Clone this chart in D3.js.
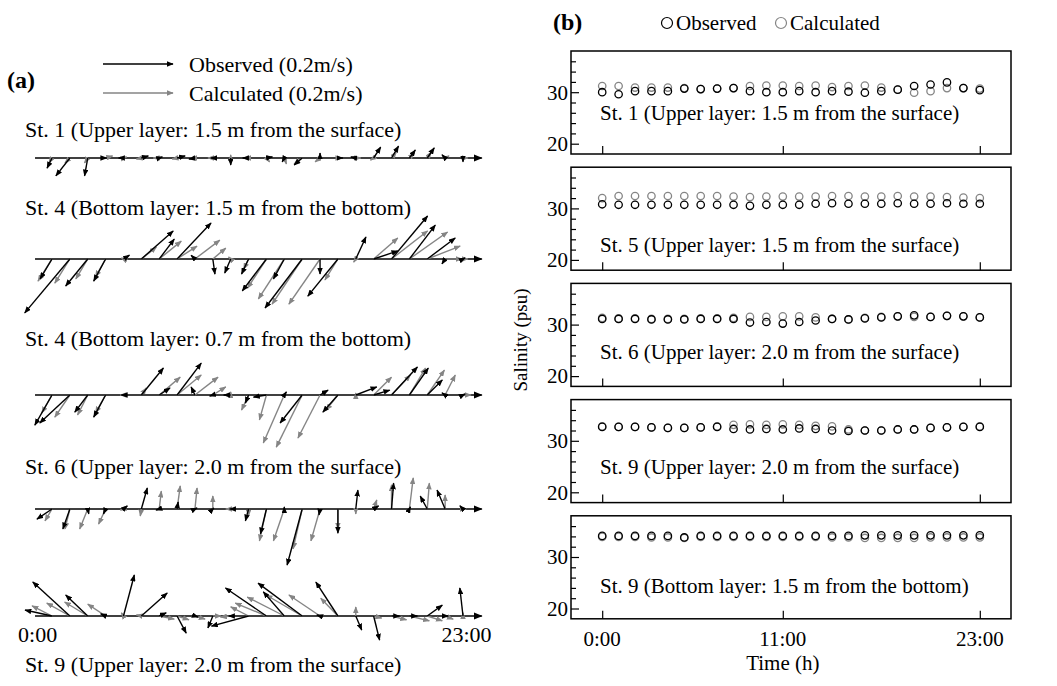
<!DOCTYPE html>
<html>
<head>
<meta charset="utf-8">
<script src="https://cdn.jsdelivr.net/npm/d3@7"></script>
<style>
  body{margin:0;background:#fff}
  svg{font-family:"Liberation Serif","Times New Roman",serif}
</style>
</head>
<body>
<svg width="1057" height="686"></svg>
<script>
// hours of the day (0:00 .. 23:00)
var hours=[0,1,2,3,4,5,6,7,8,9,10,11,12,13,14,15,16,17,18,19,20,21,22,23];

// ---- (a) current vectors [u east, v north] in cm/s ----
var stickTitles=[
  "St. 1 (Upper layer: 1.5 m from the surface)",
  "St. 4 (Bottom layer: 1.5 m from the bottom)",
  "St. 4 (Bottom layer: 0.7 m from the bottom)",
  "St. 6 (Upper layer: 2.0 m from the surface)",
  "St. 9 (Upper layer: 2.0 m from the surface)"
];
var st1Obs=[[-1.4,-2.9],[-4.0,-5.1],[-0.9,-5.1],[0.3,0],[-1.4,0],[2.0,0.6],[0.9,0.3],[2.3,0.6],[-1.7,-0.3],[-0.6,0],[0,-2.0],[-1.7,0],
            [1.7,0.3],[-0.6,-1.1],[-2.3,-2.0],[0,1.4],[1.4,0],[-1.4,0.3],[2.0,3.1],[2.0,3.4],[1.7,2.3],[2.0,2.9],[-0.9,0.9],[0,-1.1]];
var st1Cal=[[-0.9,-1.4],[-1.4,-1.4],[-0.9,-1.4],[2.0,0.6],[0.9,0.3],[-1.4,-0.3],[-1.7,0],[-1.4,-0.3],[-1.1,0],[-1.4,0],[0,0.9],[-1.1,0],
            [0.9,-1.1],[0.6,-1.7],[-2.3,-1.7],[-1.4,-1.1],[1.1,0],[1.4,0],[-0.9,-0.6],[1.4,1.7],[1.4,1.4],[1.1,1.7],[1.1,0.6],[1.4,0]];
var st4bObs=[[-3.4,-5.7],[-12.9,-15.4],[-6.3,-7.7],[-3.4,-6.3],[1.7,1.1],[9.1,8.0],[4.3,5.7],[9.7,10.3],[-1.1,1.1],[0.6,-4.3],[-1.7,-4.0],[-2.0,-4.3],
             [-6.9,-9.1],[-3.1,-5.7],[-10.6,-14.0],[0,-4.3],[-8.6,-10.6],[2.9,6.3],[6.9,2.3],[10.3,12.3],[7.4,9.7],[8.0,6.0],[-0.9,-1.4],[0.6,0.3]];
var st4bCal=[[-4.0,-6.3],[-4.3,-6.9],[-3.4,-5.7],[-2.9,-5.1],[-0.6,0.3],[4.3,3.4],[6.3,5.1],[5.7,3.7],[7.1,5.4],[3.7,3.1],[-0.6,0.6],[-1.4,-2.9],
             [-5.4,-8.3],[-7.4,-11.4],[-8.6,-12.9],[-8.9,-12.9],[-3.7,-6.0],[-0.6,-0.9],[6.9,6.0],[10.3,8.0],[10.9,7.7],[9.4,3.7],[4.9,0],[1.4,0]];
var st4cObs=[[-4.9,-8.6],[-8.6,-8.0],[-3.7,-4.9],[-3.4,-6.3],[-0.6,0],[6.3,7.7],[3.1,2.0],[6.9,9.1],[-1.1,2.3],[-0.9,-0.3],[-2.0,0],[-0.9,-2.3],
             [-3.7,-0.6],[0.6,0.9],[-6.3,-8.0],[2.3,1.4],[-4.3,-4.9],[6.0,2.3],[4.6,1.4],[7.4,8.0],[5.4,7.7],[4.3,4.3],[-0.9,0.6],[0.6,0.3]];
var st4cCal=[[-2.9,-5.1],[-4.3,-6.3],[-2.9,-5.7],[-2.9,-5.1],[-0.9,0],[1.4,2.0],[6.0,5.1],[6.9,5.7],[6.6,5.1],[3.7,2.3],[0,0.9],[-2.0,-4.3],
             [-2.0,-7.1],[-6.0,-13.7],[-7.4,-14.9],[-6.3,-12.3],[-3.4,-4.3],[0,0.6],[5.1,5.1],[5.4,5.7],[4.6,7.7],[4.9,7.1],[2.9,5.7],[2.3,0]];
var st6Obs=[[-4.3,-2.9],[-2.0,-5.7],[0.3,-1.4],[-0.6,-1.4],[1.1,0.9],[1.7,6.0],[-0.9,-0.3],[0.3,2.0],[0.6,0.3],[0.3,0.3],[-0.3,0],[-0.9,-3.4],
            [-1.7,-7.1],[0,0.6],[-4.3,-16.0],[-0.3,-1.7],[0,-6.9],[0.6,5.4],[1.4,0.9],[0.6,7.4],[0.3,0.6],[-2.0,3.7],[-2.3,5.4],[-0.9,0.9]];
var st6Cal=[[-2.0,-3.4],[-1.4,-5.7],[-2.3,-5.7],[-2.0,-4.3],[-0.9,-0.3],[-0.3,-2.0],[0.6,5.1],[0.9,6.6],[0.6,6.0],[0,3.7],[-1.4,0],[0,-2.0],
            [-2.0,-9.1],[-3.1,-9.1],[-2.6,-11.4],[-2.6,-9.1],[0,-5.7],[0,-1.4],[0.9,2.6],[0,6.9],[1.1,8.9],[0.6,7.4],[0,4.0],[0.9,0]];
var st9Obs=[[-7.7,1.7],[-10.6,9.7],[-6.3,6.0],[-1.4,0.6],[3.1,11.7],[7.4,6.6],[2.0,0.9],[2.6,-4.9],[0.9,-0.3],[-1.4,-3.4],[-0.6,0],[-10.6,-2.9],
            [-11.7,8.0],[-6.0,6.9],[-12.6,9.4],[-0.9,0.3],[-6.3,9.7],[1.7,-4.0],[1.7,-6.9],[2.3,0],[2.3,0],[4.3,3.1],[0.9,0],[-0.9,8.0]];
var st9Cal=[[-5.7,2.9],[-6.6,3.7],[-6.6,4.0],[-5.1,3.4],[-0.6,0.9],[-1.4,0.3],[4.3,-0.9],[3.4,-1.1],[2.9,-0.9],[2.3,0],[-2.9,-0.3],[-5.1,2.6],
            [-8.9,3.7],[-10.6,5.4],[-10.3,6.0],[-8.9,6.0],[-4.9,5.1],[0,2.6],[2.3,-0.6],[4.3,-1.1],[5.7,-1.4],[4.3,-1.4],[2.3,-0.9],[0,0.9]];
var stickObs=[st1Obs,st4bObs,st4cObs,st6Obs,st9Obs];
var stickCal=[st1Cal,st4bCal,st4cCal,st6Cal,st9Cal];

// ---- (b) salinity (psu) ----
var salTitles=[
  "St. 1 (Upper layer: 1.5 m from the surface)",
  "St. 5 (Upper layer: 1.5 m from the surface)",
  "St. 6 (Upper layer: 2.0 m from the surface)",
  "St. 9 (Upper layer: 2.0 m from the surface)",
  "St. 9 (Bottom layer: 1.5 m from the bottom)"
];
var sal1Obs=[30.0,29.6,30.2,30.2,30.2,30.7,30.6,30.7,30.8,30.2,30.0,30.0,30.2,30.0,30.2,30.1,29.9,30.2,30.5,31.2,31.5,31.9,30.8,30.4];
var sal1Cal=[31.2,31.2,30.9,30.9,30.9,30.8,30.6,30.7,30.8,31.2,31.3,31.3,31.2,31.3,31.0,31.2,31.3,30.9,30.5,29.9,30.2,30.8,30.8,30.7];
var sal5Obs=[30.8,30.7,30.7,30.7,30.7,30.7,30.7,30.7,30.7,30.5,30.7,30.7,30.7,30.9,31.0,30.9,30.9,30.9,31.0,30.9,30.9,31.0,30.9,30.9];
var sal5Cal=[32.0,32.4,32.4,32.4,32.4,32.4,32.4,32.4,32.3,32.2,32.3,32.3,32.3,32.3,32.4,32.4,32.3,32.3,32.4,32.3,32.3,32.2,32.1,32.0];
var sal6Obs=[31.1,31.1,31.1,31.0,31.0,31.0,31.1,31.1,31.1,30.4,30.5,30.2,30.5,30.8,31.1,31.0,31.2,31.4,31.6,31.8,31.5,31.7,31.6,31.4];
var sal6Cal=[31.3,31.2,31.2,31.1,31.1,31.1,31.2,31.2,31.3,31.5,31.5,31.6,31.6,31.4,31.1,31.0,31.3,31.5,31.6,31.5,31.5,31.7,31.6,31.4];
var sal9uObs=[32.7,32.7,32.7,32.6,32.5,32.5,32.6,32.7,32.3,32.2,32.3,32.2,32.4,32.3,32.0,31.9,32.0,32.0,32.2,32.2,32.5,32.6,32.7,32.7];
var sal9uCal=[32.8,32.7,32.7,32.6,32.5,32.5,32.6,32.8,33.1,33.2,33.1,33.2,33.1,32.9,32.8,32.2,32.0,32.0,32.2,32.2,32.5,32.6,32.7,32.8];
var sal9bObs=[34.1,34.1,34.1,34.1,34.1,33.8,34.1,34.1,34.1,34.1,34.1,34.1,34.1,34.1,34.1,34.1,34.2,34.2,34.2,34.2,34.2,34.2,34.2,34.2];
var sal9bCal=[33.9,33.9,33.9,33.8,33.8,33.7,33.9,33.9,33.9,33.9,33.9,33.9,33.9,33.9,33.8,33.8,33.7,33.7,33.7,33.7,33.8,33.8,33.8,33.8];
var salObs=[sal1Obs,sal5Obs,sal6Obs,sal9uObs,sal9bObs];
var salCal=[sal1Cal,sal5Cal,sal6Cal,sal9uCal,sal9bCal];
var timeTicks=[0,11,23];
var timeLabels=["0:00","11:00","23:00"];

var GRAY="#858585";
var svg=d3.select("svg");

// arrowheads
var defs=svg.append("defs");
function head(id,col,w,h){
  defs.append("marker").attr("id",id)
    .attr("viewBox","0 0 10 8").attr("refX",9).attr("refY",4)
    .attr("markerUnits","userSpaceOnUse")
    .attr("markerWidth",w).attr("markerHeight",h).attr("orient","auto")
    .append("path").attr("d","M0,0L10,4L0,8Z").attr("fill",col);
}
head("hb","#000",7,5.6);
head("hg",GRAY,7,5.6);
head("hbase","#000",9,7.2);

// ================= panel (a) =================
var xa=d3.scaleLinear().domain([0,23]).range([52,463]);
var vs=d3.scaleLinear().domain([0,20]).range([0,70]);   // 0.2 m/s -> 70 px
var baseY=[158,259,395,509,616];
var titleY=[137,215,346,474,672];

var ga=svg.append("g");
ga.append("text").attr("x",7).attr("y",88).attr("font-size",24).attr("font-weight","bold").text("(a)");
// legend
[["#000","hb","Observed (0.2m/s)",64],[GRAY,"hg","Calculated (0.2m/s)",93]].forEach(function(l){
  ga.append("line").attr("x1",103).attr("x2",103+vs(20)).attr("y1",l[3]).attr("y2",l[3])
    .attr("stroke",l[0]).attr("stroke-width",1.4).attr("marker-end","url(#"+l[1]+")");
  ga.append("text").attr("x",189).attr("y",l[3]+8).attr("font-size",22).text(l[2]);
});

stickTitles.forEach(function(t,i){
  var row=ga.append("g");
  var y0=baseY[i];
  row.append("text").attr("x",25).attr("y",titleY[i]).attr("font-size",22).text(t);
  row.append("line").attr("x1",xa(-0.95)).attr("x2",xa(24.05)).attr("y1",y0).attr("y2",y0)
    .attr("stroke","#000").attr("stroke-width",1.4).attr("marker-end","url(#hbase)");
  [[stickCal[i],GRAY,"hg"],[stickObs[i],"#000","hb"]].forEach(function(s){
    row.selectAll(null).data(s[0]).enter().append("line")
      .attr("x1",function(d,j){return xa(hours[j]);})
      .attr("y1",y0)
      .attr("x2",function(d,j){return xa(hours[j])+vs(d[0]);})
      .attr("y2",function(d){return y0-vs(d[1]);})
      .attr("stroke",s[1]).attr("stroke-width",1.4)
      .attr("marker-end","url(#"+s[2]+")");
  });
});
ga.append("text").attr("x",xa(-1.9)).attr("y",642).attr("font-size",22).text("0:00");
ga.append("text").attr("x",xa(24.6)).attr("y",642).attr("font-size",22).attr("text-anchor","end").text("23:00");

// ================= panel (b) =================
var left=571,right=1011,ph=103;
var xb=d3.scaleLinear().domain([-1.9,24.9]).range([left,right]);
var gb=svg.append("g");
gb.append("text").attr("x",553).attr("y",30).attr("font-size",24).attr("font-weight","bold").text("(b)");
[["#000",667,"Observed"],[GRAY,781,"Calculated"]].forEach(function(l){
  gb.append("circle").attr("cx",l[1]).attr("cy",23).attr("r",5.5).attr("fill","none").attr("stroke",l[0]).attr("stroke-width",1.2);
  gb.append("text").attr("x",l[1]+9).attr("y",30).attr("font-size",21).text(l[2]);
});
var titleDy=[69,85,76,74,77];

salTitles.forEach(function(t,i){
  var top=51+i*116.2;
  var y=d3.scaleLinear().domain([18,38]).range([top+ph,top]);
  var p=gb.append("g");
  p.append("rect").attr("x",left).attr("y",top).attr("width",right-left).attr("height",ph)
    .attr("fill","none").attr("stroke","#000").attr("stroke-width",1.5);
  // y ticks (inward)
  var yax=d3.axisRight(y).tickValues([20,22,24,26,28,30,32,34,36]).tickSize(5).tickFormat("");
  var ya=p.append("g").attr("transform","translate("+left+",0)").call(yax);
  ya.select(".domain").remove();
  ya.selectAll(".tick line").attr("x2",function(d){return d%10===0?8:5;}).attr("stroke-width",1.2);
  [20,30].forEach(function(v){
    p.append("text").attr("x",left-3).attr("y",y(v)).attr("dy","0.35em").attr("text-anchor","end")
      .attr("font-size",21).text(v);
  });
  // x ticks (inward)
  var xax=d3.axisTop(xb).tickValues(timeTicks).tickSize(8).tickFormat("");
  var xg=p.append("g").attr("transform","translate(0,"+(top+ph)+")").call(xax);
  xg.select(".domain").remove();
  xg.selectAll(".tick line").attr("stroke-width",1.2);

  p.append("text").attr("x",600).attr("y",top+titleDy[i]).attr("font-size",21).text(t);

  [[salCal[i],GRAY],[salObs[i],"#000"]].forEach(function(s){
    p.selectAll(null).data(s[0]).enter().append("circle")
      .attr("cx",function(d,j){return xb(hours[j]);})
      .attr("cy",function(d){return y(d);})
      .attr("r",3.7).attr("fill","none").attr("stroke",s[1]).attr("stroke-width",1.3);
  });
});
timeTicks.forEach(function(t,k){
  gb.append("text").attr("x",xb(t)).attr("y",646).attr("text-anchor","middle").attr("font-size",21).text(timeLabels[k]);
});
gb.append("text").attr("x",xb(11)).attr("y",670).attr("text-anchor","middle").attr("font-size",21).text("Time (h)");
gb.append("text").attr("transform","translate(527,340) rotate(-90)").attr("text-anchor","middle")
  .attr("fill","#000").attr("font-size",19).text("Salinity (psu)");
</script>
</body>
</html>
